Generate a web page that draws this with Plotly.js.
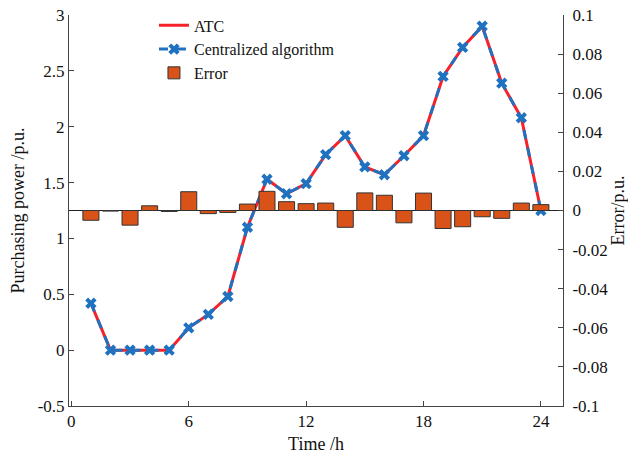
<!DOCTYPE html>
<html>
<head>
<meta charset="utf-8">
<script src="https://cdn.plot.ly/plotly-3.0.1.min.js"></script>
<style>
  html, body { margin: 0; padding: 0; background: #fff; }
  #chart { width: 628px; height: 455px; }
</style>
</head>
<body>
<div id="chart"></div>
<script>
// Hourly purchasing power (p.u.) from the two solution methods
const hours = [1,2,3,4,5,6,7,8,9,10,11,12,13,14,15,16,17,18,19,20,21,22,23,24];
const atcPower = [0.42,0,0,0,0,0.20,0.32,0.48,1.10,1.53,1.40,1.49,1.75,1.92,1.64,1.57,1.74,1.92,2.45,2.71,2.90,2.39,2.08,1.25];
const centralizedPower = [0.42,0,0,0,0,0.20,0.32,0.48,1.10,1.53,1.40,1.49,1.75,1.92,1.64,1.57,1.74,1.92,2.45,2.71,2.90,2.39,2.08,1.25];
// Difference between the two methods (p.u.)
const errorValues = [-0.0050,-0.0003,-0.0075,0.0024,-0.0005,0.0096,-0.0016,-0.0010,0.0033,0.0098,0.0045,0.0035,0.0038,-0.0086,0.0090,0.0078,-0.0063,0.0089,-0.0092,-0.0083,-0.0032,-0.0040,0.0038,0.0030];

const xTickVals = [0,6,12,18,24];
const leftTickVals = [-0.5,0,0.5,1,1.5,2,2.5,3];
const leftTickText = ['-0.5','0','0.5','1','1.5','2','2.5','3'];
const rightTickVals = [-0.1,-0.08,-0.06,-0.04,-0.02,0,0.02,0.04,0.06,0.08,0.1];
const rightTickText = ['-0.1','-0.08','-0.06','-0.04','-0.02','0','0.02','0.04','0.06','0.08','0.1'];

const FONT = "'Liberation Serif', 'Times New Roman', serif";
const AX = '#444';

const traces = [
  {
    type: 'bar', name: 'Error', x: hours, y: errorValues, yaxis: 'y2',
    width: 0.82, legendrank: 3,
    marker: { color: '#D95319', line: { color: '#333', width: 1 } }
  },
  {
    type: 'scatter', mode: 'lines', name: 'ATC', x: hours, y: atcPower,
    legendrank: 1,
    line: { color: '#F5212B', width: 3 }
  },
  {
    type: 'scatter', mode: 'lines+markers', name: 'Centralized algorithm',
    x: hours, y: centralizedPower, legendrank: 2,
    line: { color: '#1F72C0', width: 3, dash: 'dash' },
    marker: { symbol: 'x', size: 10, color: '#1F72C0', line: { width: 0 } }
  }
];

const layout = {
  width: 628, height: 455,
  margin: { l: 69, r: 65, t: 15, b: 49, autoexpand: false },
  paper_bgcolor: '#fff', plot_bgcolor: '#fff',
  font: { family: FONT, size: 17, color: '#111' },
  showlegend: true,
  legend: {
    x: 0.172, y: 1.017, xanchor: 'left', yanchor: 'top',
    traceorder: 'normal', bgcolor: 'rgba(0,0,0,0)',
    font: { family: FONT, size: 16, color: '#111' },
    tracegroupgap: 0
  },
  xaxis: {
    range: [-0.12, 25.13],
    tickvals: xTickVals,
    ticks: 'inside', ticklen: 5, tickcolor: AX,
    tickfont: { family: FONT, size: 17 },
    showline: true, linecolor: AX, linewidth: 1,
    showgrid: false, zeroline: false,
    title: { text: 'Time /h', font: { family: FONT, size: 18 }, standoff: 6 }
  },
  yaxis: {
    range: [-0.5, 3],
    tickvals: leftTickVals, ticktext: leftTickText,
    ticks: 'inside', ticklen: 5, tickcolor: AX,
    tickfont: { family: FONT, size: 17 },
    showline: true, linecolor: AX, linewidth: 1,
    showgrid: false, zeroline: false,
    title: { text: 'Purchasing power /p.u.', font: { family: FONT, size: 18 }, standoff: 8 }
  },
  yaxis2: {
    overlaying: 'y', side: 'right',
    range: [-0.1, 0.1],
    tickvals: rightTickVals, ticktext: rightTickText,
    ticks: 'inside', ticklen: 5, tickcolor: AX,
    tickfont: { family: FONT, size: 17 },
    ticklabelstandoff: 5,
    showline: true, linecolor: AX, linewidth: 1,
    showgrid: false,
    zeroline: true, zerolinecolor: '#222', zerolinewidth: 1,
    title: { text: 'Error/p.u.', font: { family: FONT, size: 18 }, standoff: 8 }
  }
};

Plotly.newPlot('chart', traces, layout, { displayModeBar: false, staticPlot: true });
</script>
</body>
</html>
